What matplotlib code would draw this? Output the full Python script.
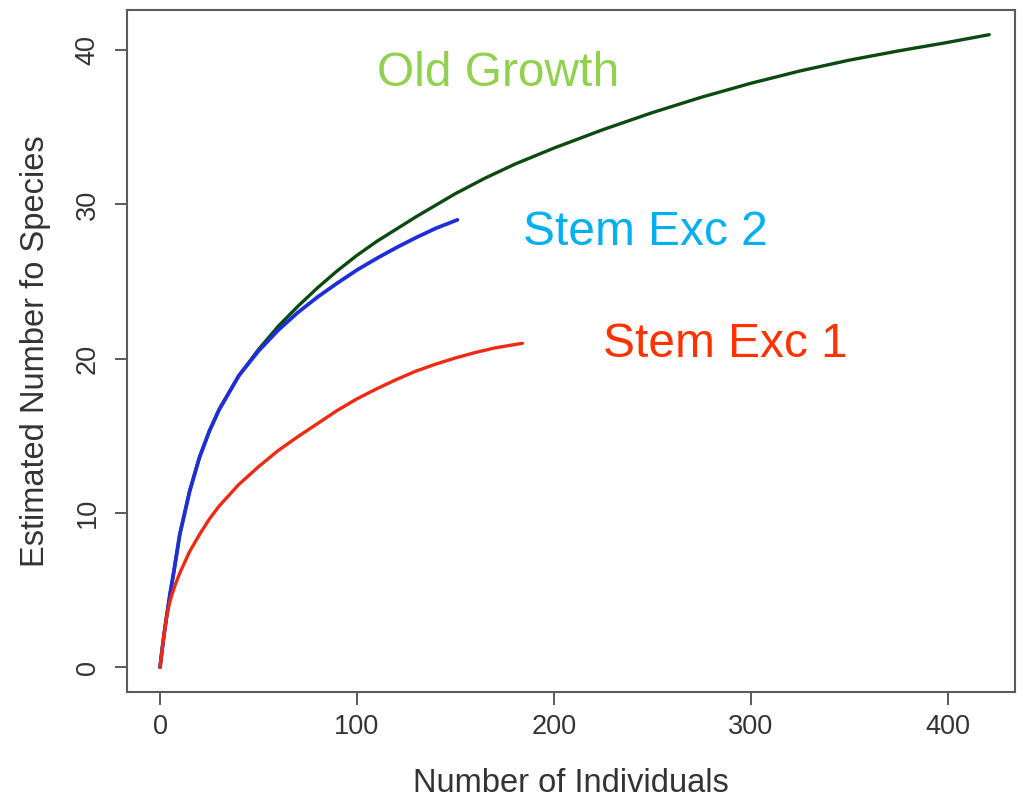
import numpy as np
import matplotlib
matplotlib.use("Agg")
import matplotlib.pyplot as plt

plt.rcParams['font.family'] = ['Liberation Sans', 'DejaVu Sans']

# rarefaction curves
old_growth_x = [0, 1, 2, 3, 5, 7, 10, 15, 20, 25, 30, 40, 50, 60, 70, 80, 90, 100,
                110, 120, 130, 140, 150, 165, 180, 200, 225, 250, 275, 300, 325, 350,
                375, 400, 421]
old_growth_y = [0, 1.1, 2.1, 3.0, 4.7, 6.2, 8.6, 11.4, 13.6, 15.3, 16.7, 18.9, 20.6,
                22.1, 23.4, 24.6, 25.7, 26.7, 27.6, 28.4, 29.2, 29.95, 30.7, 31.7, 32.6,
                33.65, 34.85, 35.95, 36.95, 37.85, 38.65, 39.35, 39.95, 40.5, 41.0]

stem2_x = [0, 1, 2, 3, 5, 7, 10, 15, 20, 25, 30, 40, 50, 60, 70, 80, 90, 100, 110,
           120, 130, 140, 151]
stem2_y = [0, 1.1, 2.1, 3.0, 4.7, 6.2, 8.6, 11.4, 13.6, 15.3, 16.7, 18.9, 20.5, 21.85,
           23.0, 24.0, 24.9, 25.75, 26.5, 27.2, 27.85, 28.45, 29.0]

stem1_x = [0, 1, 2, 3, 4, 5, 6, 8, 10, 15, 20, 25, 30, 40, 50, 60, 70, 80, 90, 100,
           110, 120, 130, 140, 150, 160, 170, 184]
stem1_y = [0, 1.1, 2.1, 3.0, 3.7, 4.25, 4.7, 5.45, 6.1, 7.5, 8.6, 9.6, 10.45, 11.85,
           13.0, 14.05, 14.95, 15.8, 16.65, 17.4, 18.05, 18.65, 19.2, 19.65, 20.05,
           20.4, 20.7, 21.0]

labels = ["Old Growth", "Stem Exc 2", "Stem Exc 1"]
label_colours = ["#92D050", "#00B0F0", "#FF3300"]

x_ticks = [0, 100, 200, 300, 400]
y_ticks = [0, 10, 20, 30, 40]

fig = plt.figure(figsize=(10.23, 7.98), dpi=100)
ax = fig.add_axes([0.1241, 0.1328, 0.8679, 0.8547])

ax.plot(old_growth_x, old_growth_y, color="#0b4a10", lw=2.4,
        solid_capstyle="round", solid_joinstyle="round")
ax.plot(stem2_x, stem2_y, color="#1f2fd8", lw=2.7,
        solid_capstyle="round", solid_joinstyle="round")
ax.plot(stem1_x, stem1_y, color="#ee2a12", lw=2.4,
        solid_capstyle="round", solid_joinstyle="round")

# text labels as placed on the slide
ax.text(110.3, 38.5, labels[0], color=label_colours[0], fontsize=34.5, va="center", ha="left")
ax.text(184.4, 28.2, labels[1], color=label_colours[1], fontsize=34.5, va="center", ha="left")
ax.text(225.0, 20.95, labels[2], color=label_colours[2], fontsize=34.5, va="center", ha="left")

ax.set_xlim(-16.8, 434)
ax.set_ylim(-1.6, 42.6)
ax.set_xticks(x_ticks)
ax.set_yticks(y_ticks)
ax.set_yticklabels([str(v) for v in y_ticks], rotation=90, va="center")

for s in ax.spines.values():
    s.set_color("#5a5a5a")
    s.set_linewidth(1.5)
ax.tick_params(axis="both", length=9, width=1.4, color="#5a5a5a",
               labelsize=19.5, labelcolor="#333333")
ax.tick_params(axis="x", pad=7)
ax.tick_params(axis="y", pad=10)

ax.set_xlabel("Number of Individuals", fontsize=23.5, color="#333333", labelpad=20)
ax.set_ylabel("Estimated Number fo Species", fontsize=23.5, color="#333333", labelpad=17)

fig.savefig("out.png", dpi=100, facecolor="white")
